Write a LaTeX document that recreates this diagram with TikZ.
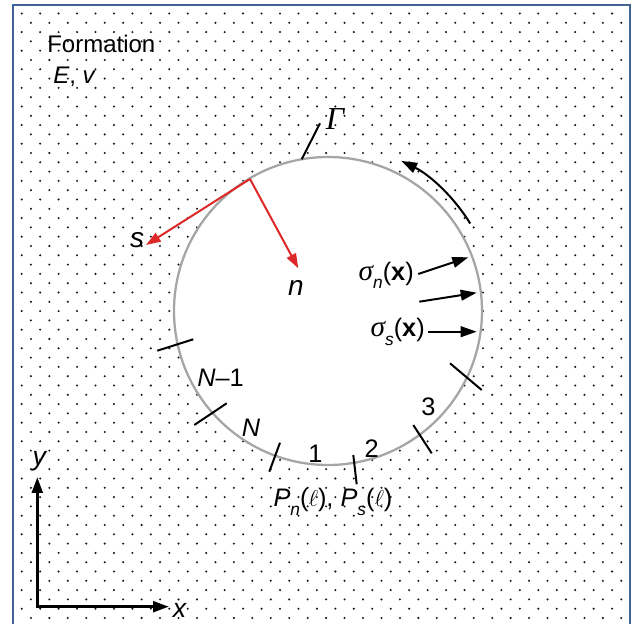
\documentclass[tikz,border=0pt]{standalone}
\usepackage{fontspec}
\setmainfont{Liberation Sans}
\newfontfamily\tms{Liberation Serif}
\usetikzlibrary{arrows.meta,calc}
\definecolor{frameblue}{RGB}{65,100,150}
\definecolor{arrred}{RGB}{220,40,40}
\definecolor{circgray}{RGB}{165,165,165}
\newcommand{\mysub}[1]{\raisebox{-0.6ex}{\fontsize{13}{13}\selectfont\textit{#1}}}
\newcommand{\mysig}{{\fontsize{22}{22}\selectfont\tms\itshape σ}}
\begin{document}
\begin{tikzpicture}[x=0.75pt,y=-0.75pt,
  lbl/.style={font=\fontsize{19}{21}\selectfont, inner sep=0pt},
  tickline/.style={line width=1.5pt},
  blackarr/.style={line width=1.5pt, -{Triangle[length=12pt,width=8pt]}},
  redarr/.style={line width=1.5pt, draw=arrred, -{Triangle[length=11pt,width=7.5pt,fill=arrred]}},
  axisline/.style={line width=2.25pt, line join=miter, {Triangle[length=12pt,width=8pt]}-{Triangle[length=12pt,width=8pt]}},
]
\useasboundingbox (0,0) rectangle (633,624);
% dotted background
\begin{scope}
\clip (14,6) rectangle (629,624);
\foreach \j in {0,...,66}{
  \foreach \i in {0,...,34}{
    \pgfmathsetmacro{\xx}{21.7+18.45*\i-9.225*mod(\j,2)}
    \pgfmathsetmacro{\yy}{13.5+9.3*\j}
    \fill[black!90] (\xx,\yy) circle[radius=1.15];
  }
}
\end{scope}
% frame
\draw[frameblue, line width=2.2pt] (13,626) -- (13,5) -- (630,5) -- (630,626);
% hole
\node[circle, draw=circgray, line width=1.7pt, fill=white, minimum size=231pt, inner sep=0pt] (hole) at (328,311) {};
% element ticks
\draw[tickline] (157.3,350.7) -- (193.3,339.3);
\draw[tickline] (194.3,425) -- (226.7,403.3);
\draw[tickline] (269.3,471.7) -- (280,442.7);
\draw[tickline] (353.3,455) -- (356.7,484.3);
\draw[tickline] (413.3,425) -- (431.7,453.3);
\draw[tickline] (450,363.3) -- (481.7,390);
% Gamma
\node[lbl, font=\fontsize{24}{26}\selectfont] (gamma) at (335,119) {\tms\itshape Γ};
\coordinate (gfoot) at (301.7,159.3);
\coordinate (gtop) at (320,123.3);
\draw[tickline] (gfoot) -- (gtop);
% text
\node[lbl, anchor=west, font=\fontsize{18}{20}\selectfont] (form) at (47,44) {Formation};
\node[lbl, anchor=west, font=\fontsize{18}{20}\selectfont] (ev) at (53,77) {\textit{E}, \textit{v}};
% red local frame
\coordinate (P) at (250,179);
\coordinate (sT) at (146,245);
\coordinate (nT) at (298.3,268.3);
\draw[redarr] (P) -- (sT);
\draw[redarr] (P) -- (nT);
\node[lbl, font=\fontsize{21}{23}\selectfont] (slab) at (137,240) {\textit{s}};
\node[lbl, font=\fontsize{21}{23}\selectfont] (nlab) at (296,288) {\textit{n}};
% curved arrow
\draw[blackarr] ($(hole.center)+(-31.6:167)$) arc[start angle=-31.6, end angle=-64, radius=167];
% traction arrows
\node[lbl, anchor=base east] (sn) at (414,280.5) {\mysig\mysub{n}(\textbf{x})};
\node[lbl, anchor=base east] (ss) at (425,337) {\mysig\mysub{s}(\textbf{x})};
\coordinate (snS) at (418.3,274);
\coordinate (snT) at (468.3,257.3);
\coordinate (mS) at (419.3,301.7);
\coordinate (mT) at (476.7,292.7);
\coordinate (ssS) at (428.3,331.7);
\coordinate (ssT) at (476.7,331.7);
\draw[blackarr] (snS) -- (snT);
\draw[blackarr] (mS) -- (mT);
\draw[blackarr] (ssS) -- (ssT);
% element labels
\node[lbl] (nm1) at (220.5,378) {\textit{N}–1};
\node[lbl] (nn) at (251,428) {\textit{N}};
\node[lbl] (e1) at (315.5,454) {1};
\node[lbl] (e2) at (371.7,449) {2};
\node[lbl] (e3) at (428.3,406.7) {3};
\node[lbl, anchor=base] (pl) at (333,507) {\textit{P}\mysub{n}($\ell$), \textit{P}\mysub{s}($\ell$)};
% axes
\coordinate (O) at (37.3,606.7);
\coordinate (yT) at (37.3,477);
\coordinate (xT) at (169,606.7);
\draw[axisline] (yT) -- (O) -- (xT);
\node[lbl, font=\fontsize{20}{22}\selectfont] (ylab) at (40,461) {\textit{y}};
\node[lbl, font=\fontsize{20}{22}\selectfont] (xlab) at (180,610) {\textit{x}};
\end{tikzpicture}
\end{document}
